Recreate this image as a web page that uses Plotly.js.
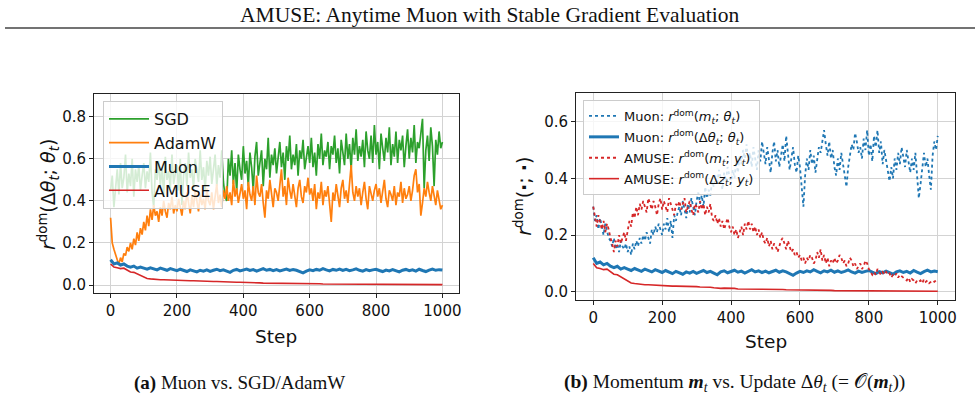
<!DOCTYPE html>
<html>
<head>
<meta charset="utf-8">
<script src="https://cdn.plot.ly/plotly-3.0.1.min.js"></script>
<style>html,body{margin:0;padding:0;background:#fff;}#chart{width:978px;height:404px;}</style>
</head>
<body>
<div id="chart"></div>
<script>
// ---------------- data ----------------
// Sampling grids (step numbers)
const steps5 = Array.from({length: 201}, (_, i) => i * 5);
const steps10 = Array.from({length: 101}, (_, i) => i * 10);

// (a) SGD, r_dom(Δθ_t; θ_t), every 5 steps
const sgd = [
  0.45,0.52,0.37,0.48,0.55,0.43,0.58,0.46,0.51,0.62,
  0.44,0.53,0.47,0.60,0.42,0.55,0.49,0.57,0.45,0.52,
  0.58,0.46,0.54,0.49,0.63,0.44,0.37,0.55,0.50,0.59,
  0.47,0.56,0.43,0.61,0.50,0.54,0.46,0.62,0.48,0.53,
  0.57,0.45,0.60,0.38,0.52,0.58,0.47,0.63,0.51,0.55,
  0.46,0.60,0.53,0.49,0.64,0.50,0.56,0.45,0.59,0.52,
  0.61,0.48,0.55,0.62,0.47,0.57,0.51,0.64,0.49,0.42,
  0.40,0.60,0.52,0.64,0.48,0.58,0.44,0.62,0.55,0.50,
  0.66,0.53,0.59,0.47,0.63,0.56,0.45,0.61,0.68,0.52,
  0.58,0.64,0.47,0.60,0.55,0.70,0.51,0.62,0.57,0.65,
  0.53,0.60,0.68,0.56,0.63,0.50,0.66,0.59,0.71,0.55,
  0.62,0.57,0.67,0.52,0.64,0.60,0.69,0.55,0.61,0.66,
  0.58,0.70,0.56,0.63,0.52,0.67,0.60,0.72,0.57,0.64,
  0.61,0.68,0.55,0.66,0.62,0.71,0.58,0.65,0.53,0.69,
  0.63,0.57,0.72,0.60,0.67,0.55,0.70,0.62,0.74,0.59,
  0.66,0.61,0.69,0.56,0.73,0.64,0.60,0.71,0.58,0.76,
  0.62,0.68,0.55,0.72,0.65,0.59,0.70,0.63,0.75,0.57,
  0.67,0.61,0.73,0.58,0.69,0.64,0.71,0.56,0.66,0.74,
  0.60,0.70,0.63,0.76,0.58,0.68,0.65,0.72,0.79,0.46,
  0.64,0.71,0.59,0.75,0.66,0.47,0.69,0.62,0.73,0.65,
  0.68
];

// (a) AdamW, every 5 steps
const adamw = [
  0.32,0.20,0.17,0.14,0.12,0.10,0.13,0.11,0.15,0.14,
  0.18,0.16,0.20,0.17,0.22,0.19,0.25,0.21,0.27,0.24,
  0.30,0.26,0.33,0.28,0.36,0.31,0.38,0.33,0.35,0.30,
  0.37,0.33,0.40,0.35,0.32,0.39,0.36,0.42,0.34,0.38,
  0.35,0.41,0.37,0.33,0.40,0.36,0.44,0.38,0.34,0.42,
  0.37,0.45,0.39,0.35,0.43,0.38,0.41,0.36,0.46,0.40,
  0.38,0.44,0.36,0.42,0.48,0.39,0.43,0.37,0.45,0.41,
  0.47,0.40,0.44,0.38,0.50,0.42,0.46,0.39,0.43,0.48,
  0.41,0.45,0.36,0.49,0.43,0.40,0.47,0.38,0.52,0.44,
  0.42,0.48,0.39,0.32,0.45,0.41,0.50,0.43,0.37,0.46,
  0.44,0.40,0.49,0.55,0.42,0.47,0.38,0.51,0.45,0.41,
  0.48,0.43,0.37,0.46,0.50,0.42,0.39,0.47,0.44,0.51,
  0.43,0.46,0.40,0.48,0.36,0.44,0.41,0.49,0.38,0.45,
  0.42,0.47,0.39,0.30,0.44,0.40,0.48,0.43,0.37,0.46,
  0.50,0.41,0.45,0.39,0.48,0.57,0.44,0.40,0.47,0.42,
  0.46,0.38,0.44,0.49,0.41,0.36,0.47,0.43,0.40,0.45,
  0.48,0.42,0.46,0.39,0.44,0.50,0.41,0.37,0.45,0.43,
  0.40,0.47,0.38,0.44,0.42,0.49,0.39,0.46,0.41,0.43,
  0.47,0.40,0.45,0.52,0.55,0.44,0.48,0.33,0.39,0.46,
  0.42,0.49,0.44,0.40,0.47,0.43,0.38,0.45,0.41,0.36,
  0.38
];

// Muon r_dom(Δθ_t; θ_t), every 10 steps (same run in (a) and (b))
const muonUpd = [
  0.120,0.100,0.105,0.095,0.100,0.090,0.085,0.090,0.080,0.085,
  0.080,0.075,0.082,0.078,0.072,0.080,0.075,0.070,0.078,0.072,
  0.068,0.075,0.070,0.064,0.072,0.067,0.062,0.070,0.066,0.072,
  0.065,0.070,0.075,0.068,0.072,0.066,0.060,0.070,0.074,0.067,
  0.071,0.076,0.069,0.073,0.066,0.072,0.078,0.070,0.074,0.068,
  0.073,0.067,0.072,0.076,0.069,0.074,0.070,0.065,0.058,0.066,
  0.072,0.068,0.074,0.070,0.078,0.072,0.067,0.074,0.070,0.076,
  0.069,0.074,0.068,0.072,0.077,0.070,0.066,0.073,0.068,0.072,
  0.075,0.069,0.064,0.071,0.067,0.073,0.068,0.062,0.070,0.074,
  0.068,0.072,0.066,0.075,0.069,0.064,0.071,0.076,0.070,0.073,
  0.071
];

// AMUSE r_dom(Δz_t; y_t), every 10 steps (same run in (a) and (b))
const amuseUpd = [
  0.100,0.085,0.082,0.078,0.080,0.072,0.062,0.060,0.052,0.046,
  0.036,0.031,0.029,0.027,0.026,0.025,0.025,0.024,0.023,0.022,
  0.022,0.021,0.021,0.020,0.020,0.020,0.019,0.019,0.018,0.018,
  0.018,0.017,0.017,0.016,0.016,0.014,0.012,0.012,0.013,0.013,
  0.013,0.012,0.010,0.010,0.010,0.010,0.009,0.009,0.009,0.009,
  0.009,0.008,0.008,0.008,0.008,0.008,0.007,0.007,0.007,0.007,
  0.006,0.006,0.006,0.006,0.005,0.005,0.005,0.005,0.005,0.005,
  0.004,0.004,0.004,0.004,0.004,0.004,0.004,0.004,0.004,0.003,
  0.003,0.003,0.003,0.003,0.003,0.003,0.003,0.003,0.003,0.003,
  0.002,0.002,0.002,0.002,0.002,0.002,0.002,0.002,0.002,0.002,
  0.002
];

// (b) Muon r_dom(m_t; θ_t), every 5 steps
const muonMom = [
  0.30,0.25,0.27,0.22,0.26,0.23,0.20,0.24,0.21,0.19,
  0.18,0.16,0.19,0.15,0.17,0.14,0.18,0.16,0.15,0.17,
  0.14,0.16,0.13,0.17,0.15,0.18,0.16,0.19,0.17,0.20,
  0.18,0.21,0.19,0.17,0.22,0.20,0.23,0.21,0.24,0.22,
  0.20,0.24,0.22,0.26,0.21,0.25,0.19,0.27,0.25,0.28,
  0.30,0.27,0.32,0.29,0.26,0.31,0.28,0.33,0.30,0.27,
  0.32,0.35,0.31,0.34,0.30,0.37,0.33,0.36,0.34,0.39,
  0.37,0.41,0.38,0.43,0.40,0.36,0.42,0.39,0.44,0.41,
  0.38,0.43,0.40,0.46,0.42,0.48,0.45,0.50,0.47,0.52,
  0.46,0.49,0.44,0.51,0.47,0.43,0.50,0.46,0.53,0.48,
  0.45,0.51,0.47,0.42,0.49,0.53,0.46,0.50,0.44,0.48,
  0.52,0.46,0.55,0.49,0.43,0.47,0.51,0.45,0.42,0.48,
  0.44,0.37,0.30,0.41,0.47,0.43,0.50,0.45,0.48,0.42,
  0.46,0.51,0.49,0.54,0.57,0.52,0.48,0.53,0.47,0.50,
  0.44,0.41,0.47,0.43,0.49,0.45,0.40,0.37,0.44,0.48,
  0.52,0.50,0.56,0.53,0.49,0.51,0.47,0.54,0.50,0.57,
  0.48,0.52,0.46,0.55,0.51,0.57,0.49,0.53,0.45,0.50,
  0.46,0.42,0.39,0.44,0.40,0.47,0.43,0.49,0.45,0.51,
  0.48,0.44,0.50,0.46,0.42,0.47,0.43,0.49,0.40,0.33,
  0.38,0.45,0.49,0.44,0.47,0.41,0.36,0.48,0.53,0.50,
  0.55
];

// (b) AMUSE r_dom(m_t; y_t), every 5 steps
const amuseMom = [
  0.30,0.26,0.23,0.27,0.24,0.22,0.25,0.21,0.24,0.22,
  0.19,0.17,0.14,0.18,0.16,0.20,0.17,0.19,0.21,0.18,
  0.22,0.25,0.23,0.28,0.26,0.30,0.27,0.31,0.29,0.32,
  0.30,0.28,0.33,0.31,0.29,0.32,0.30,0.27,0.31,0.33,
  0.29,0.32,0.30,0.28,0.33,0.31,0.29,0.27,0.31,0.30,
  0.32,0.29,0.31,0.33,0.28,0.30,0.32,0.29,0.27,0.31,
  0.30,0.28,0.32,0.29,0.31,0.27,0.30,0.28,0.31,0.26,
  0.25,0.27,0.24,0.26,0.23,0.25,0.22,0.24,0.26,0.23,
  0.21,0.23,0.20,0.22,0.19,0.21,0.23,0.20,0.24,0.22,
  0.25,0.22,0.24,0.21,0.23,0.20,0.22,0.19,0.21,0.18,
  0.17,0.19,0.16,0.18,0.15,0.17,0.16,0.14,0.16,0.18,
  0.19,0.17,0.15,0.18,0.16,0.14,0.15,0.13,0.14,0.12,
  0.13,0.11,0.12,0.10,0.12,0.11,0.13,0.12,0.10,0.11,
  0.14,0.12,0.15,0.11,0.13,0.10,0.12,0.09,0.11,0.10,
  0.12,0.10,0.11,0.13,0.12,0.10,0.11,0.09,0.10,0.12,
  0.11,0.09,0.10,0.08,0.09,0.10,0.08,0.09,0.11,0.10,
  0.08,0.07,0.06,0.07,0.06,0.08,0.07,0.06,0.07,0.06,
  0.07,0.06,0.065,0.05,0.06,0.055,0.065,0.05,0.06,0.055,
  0.05,0.045,0.04,0.05,0.035,0.045,0.04,0.03,0.04,0.035,
  0.04,0.03,0.045,0.035,0.04,0.03,0.035,0.04,0.035,0.04,
  0.04
];

const xTicks = [0, 200, 400, 600, 800, 1000];
const yTicksA = [0.0, 0.2, 0.4, 0.6, 0.8];
const yTicksB = [0.0, 0.2, 0.4, 0.6];

// ---------------- styling ----------------
const C = {blue: '#1f77b4', orange: '#ff7f0e', green: '#2ca02c', red: '#d62728'};
const SANS = 'DejaVu Sans, sans-serif';
const SERIF = 'Liberation Serif, DejaVu Serif, serif';

function tr(x, y, name, color, opts) {
  opts = opts || {};
  return {
    x: x, y: y, name: name, type: 'scatter', mode: 'lines',
    xaxis: opts.xa || 'x', yaxis: opts.ya || 'y',
    legend: opts.legend || 'legend',
    legendgroup: opts.group || name,
    line: {color: color, width: opts.width || 1.5, dash: opts.dash || 'solid'},
    hoverinfo: 'skip'
  };
}

const data = [
  tr(steps5, sgd, 'SGD', C.green, {width: 1.7}),
  tr(steps5, adamw, 'AdamW', C.orange, {width: 1.7}),
  tr(steps10, muonUpd, 'Muon', C.blue, {width: 3}),
  tr(steps10, amuseUpd, 'AMUSE', C.red, {width: 1.6}),
  tr(steps5, muonMom, 'Muon: <i>r</i><sup>dom</sup>(<i>m</i><sub><i>t</i></sub>; <i>θ</i><sub><i>t</i></sub>)', C.blue, {xa: 'x2', ya: 'y2', legend: 'legend2', dash: 'dot', width: 1.8, group: 'b1'}),
  tr(steps10, muonUpd, 'Muon: <i>r</i><sup>dom</sup>(Δ<i>θ</i><sub><i>t</i></sub>; <i>θ</i><sub><i>t</i></sub>)', C.blue, {xa: 'x2', ya: 'y2', legend: 'legend2', width: 3, group: 'b2'}),
  tr(steps5, amuseMom, 'AMUSE: <i>r</i><sup>dom</sup>(<i>m</i><sub><i>t</i></sub>; <i>y</i><sub><i>t</i></sub>)', C.red, {xa: 'x2', ya: 'y2', legend: 'legend2', dash: 'dot', width: 1.8, group: 'b3'}),
  tr(steps10, amuseUpd, 'AMUSE: <i>r</i><sup>dom</sup>(Δ<i>z</i><sub><i>t</i></sub>; <i>y</i><sub><i>t</i></sub>)', C.red, {xa: 'x2', ya: 'y2', legend: 'legend2', width: 1.6, group: 'b4'})
];

function axisBase() {
  return {
    showline: true, mirror: true, linecolor: '#222', linewidth: 1,
    ticks: 'outside', ticklen: 4, tickwidth: 1, tickcolor: '#222',
    showgrid: true, gridcolor: '#d3d3d3', gridwidth: 1,
    zeroline: false,
    tickfont: {family: SANS, size: 15, color: '#111'}
  };
}

const W = 978, H = 404;
const px = v => v / W, py = v => 1 - v / H;

const layout = {
  width: W, height: H,
  margin: {l: 0, r: 0, t: 0, b: 0},
  paper_bgcolor: '#fff', plot_bgcolor: '#fff',
  showlegend: true,
  xaxis: Object.assign(axisBase(), {domain: [px(94), px(459)], range: [-50, 1050], tickvals: xTicks, anchor: 'y'}),
  yaxis: Object.assign(axisBase(), {domain: [py(293), py(94)], range: [-0.038, 0.908], tickvals: yTicksA, tickformat: '.1f', anchor: 'x'}),
  xaxis2: Object.assign(axisBase(), {domain: [px(576), px(955)], range: [-50, 1050], tickvals: xTicks, anchor: 'y2'}),
  yaxis2: Object.assign(axisBase(), {domain: [py(300), py(93.3)], range: [-0.029, 0.70], tickvals: yTicksB, tickformat: '.1f', anchor: 'x2'}),
  legend: {
    x: px(103), y: py(101), xanchor: 'left', yanchor: 'top',
    bgcolor: 'rgba(255,255,255,0.8)', bordercolor: '#cccccc', borderwidth: 1,
    font: {family: SANS, size: 16, color: '#111'}, itemwidth: 40,
    traceorder: 'normal'
  },
  legend2: {
    x: px(583), y: py(100), xanchor: 'left', yanchor: 'top',
    bgcolor: 'rgba(255,255,255,0.8)', bordercolor: '#cccccc', borderwidth: 1,
    font: {family: SANS, size: 13, color: '#111'}, itemwidth: 30,
    traceorder: 'grouped', tracegroupgap: 1
  },
  annotations: [
    {text: 'AMUSE: Anytime Muon with Stable Gradient Evaluation', xref: 'paper', yref: 'paper', x: px(489), y: py(14.5),
     xanchor: 'center', yanchor: 'middle', showarrow: false, font: {family: SERIF, size: 21.5, color: '#111'}},
    {text: 'Step', xref: 'paper', yref: 'paper', x: px(276), y: py(336.7), xanchor: 'center', yanchor: 'middle',
     showarrow: false, font: {family: SANS, size: 18.5, color: '#111'}},
    {text: 'Step', xref: 'paper', yref: 'paper', x: px(766), y: py(341.7), xanchor: 'center', yanchor: 'middle',
     showarrow: false, font: {family: SANS, size: 18.5, color: '#111'}},
    {text: '<i>r</i><sup>dom</sup>(Δ<i>θ</i><sub><i>t</i></sub>; <i>θ</i><sub><i>t</i></sub>)', xref: 'paper', yref: 'paper',
     x: px(48), y: py(195), xanchor: 'center', yanchor: 'middle', textangle: -90,
     showarrow: false, font: {family: SANS, size: 19, color: '#111'}},
    {text: '<i>r</i><sup>dom</sup>(<b>·</b>; <b>·</b>)', xref: 'paper', yref: 'paper',
     x: px(523), y: py(196.7), xanchor: 'center', yanchor: 'middle', textangle: -90,
     showarrow: false, font: {family: SANS, size: 19, color: '#111'}},
    {text: '<b>(a)</b> Muon vs. SGD/AdamW', xref: 'paper', yref: 'paper', x: px(239), y: py(383),
     xanchor: 'center', yanchor: 'middle', showarrow: false, font: {family: SERIF, size: 19, color: '#111'}},
    {text: '<b>(b)</b> Momentum <b><i>m</i></b><sub><i>t</i></sub> vs. Update Δ<i>θ</i><sub><i>t</i></sub> (= 𝒪(<b><i>m</i></b><sub><i>t</i></sub>))',
     xref: 'paper', yref: 'paper', x: px(734), y: py(383),
     xanchor: 'center', yanchor: 'middle', showarrow: false, font: {family: SERIF, size: 19.5, color: '#111'}}
  ],
  shapes: [
    {type: 'line', xref: 'paper', yref: 'paper', x0: px(5), x1: px(975), y0: py(28), y1: py(28),
     line: {color: '#444', width: 1.6}}
  ]
};

Plotly.newPlot('chart', data, layout, {displayModeBar: false, staticPlot: true});
</script>
</body>
</html>
